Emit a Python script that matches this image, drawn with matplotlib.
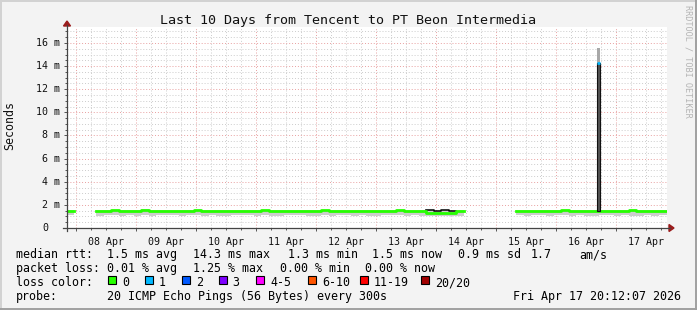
import numpy as np
import pandas as pd
import matplotlib
matplotlib.use('Agg')
import matplotlib.pyplot as plt
import matplotlib.dates as mdates
from matplotlib.lines import Line2D
from matplotlib.patches import Rectangle, Polygon

nan = np.nan

# rrd steps of 3 hours, first one starting 07 Apr 20:00 (values in ms)
step_start = '2026-04-07 20:00'
median_ms = [
    1.50, nan, nan, nan,
    1.50, 1.48, 1.52, 1.50, 1.47, 1.50, 1.52, 1.50, 1.49, 1.51, 1.50,
    1.48, 1.50, 1.52, 1.49, 1.50, 1.50, 1.47, 1.50, 1.51, 1.50, 1.49,
    1.52, 1.50, 1.48, 1.50, 1.50, 1.51, 1.49, 1.50, 1.52, 1.50, 1.48,
    1.50, 1.49, 1.51, 1.50, 1.47, 1.50, 1.50, 1.52, 1.49, 1.50, 1.48,
    1.30, 1.27, 1.31, 1.29, 1.49,
    nan, nan, nan, nan, nan, nan, nan,
    1.50, 1.49, 1.51, 1.50, 1.48, 1.50, 1.52, 1.50, 1.49, 1.50, 1.51,
    1.50, 1.48, 1.50, 1.50, 1.52, 1.49, 1.50, 1.48, 1.50, 1.50,
]
ping_lo_ms = [
    1.10, nan, nan, nan,
    1.06, 1.10, 1.12, 1.07, 1.11, 1.08, 1.13, 1.06, 1.10, 1.12, 1.09,
    1.07, 1.10, 1.12, 1.06, 1.11, 1.08, 1.07, 1.12, 1.10, 1.09, 1.06,
    1.12, 1.08, 1.07, 1.11, 1.10, 1.12, 1.06, 1.08, 1.11, 1.07, 1.10,
    1.12, 1.06, 1.11, 1.08, 1.07, 1.12, 1.10, 1.09, 1.06, 1.10, 1.07,
    1.02, 1.00, 1.03, 1.01, 1.08,
    nan, nan, nan, nan, nan, nan, nan,
    1.09, 1.07, 1.10, 1.12, 1.06, 1.10, 1.11, 1.07, 1.12, 1.08, 1.06,
    1.11, 1.10, 1.07, 1.12, 1.08, 1.06, 1.11, 1.07, 1.10, 1.09,
]
ping_hi_ms = [
    1.55, nan, nan, nan,
    1.56, 1.53, 1.58, 1.55, 1.52, 1.56, 1.60, 1.55, 1.54, 1.57, 1.55,
    1.53, 1.56, 1.58, 1.54, 1.55, 1.56, 1.52, 1.55, 1.57, 1.56, 1.54,
    1.58, 1.55, 1.53, 1.56, 1.55, 1.57, 1.54, 1.56, 1.58, 1.55, 1.53,
    1.56, 1.54, 1.57, 1.55, 1.52, 1.56, 1.55, 1.58, 1.54, 1.55, 1.53,
    1.52, 1.50, 1.53, 1.51, 1.55,
    nan, nan, nan, nan, nan, nan, nan,
    1.56, 1.54, 1.57, 1.55, 1.53, 1.56, 1.58, 1.55, 1.54, 1.56, 1.57,
    1.55, 1.53, 1.56, 1.55, 1.58, 1.54, 1.56, 1.53, 1.55, 1.56,
]

spike_time = '2026-04-16 16:48'
spike_lo_ms = 1.5
spike_median_ms = 14.3
spike_hi_ms = 15.6

view_start = '2026-04-07 20:12'
view_end = '2026-04-17 20:12'
first_day = '2026-04-08'
n_days = 10

loss_labels = ['0', '1', '2', '3', '4-5', '6-10', '11-19', '20/20']
loss_colors = ['#26ff00', '#00b8ff', '#0059ff', '#7e00ff',
               '#ff00ff', '#ff5500', '#ff0000', '#a10000']

rtt_items = ['1.5 ms avg', '14.3 ms max', '1.3 ms min', '1.5 ms now',
             '0.9 ms sd', '1.7', 'am/s']
loss_items = ['0.01 % avg', '1.25 % max', '0.00 % min', '0.00 % now']
probe_text = '20 ICMP Echo Pings (56 Bytes) every 300s'
stamp_text = 'Fri Apr 17 20:12:07 2026'
title = 'Last 10 Days from Tencent to PT Beon Intermedia'

# ---- layout (pixels) ----
W, H = 697, 310
PL, PR, PT, PB = 67, 667, 27, 228
MONO = 'DejaVu Sans Mono'


def fx(x):
    return x / W


def fy(y):
    return 1 - y / H


fig = plt.figure(figsize=(W / 100, H / 100), dpi=100, facecolor='#f3f3f3')
ax = fig.add_axes([fx(PL), fy(PB), (PR - PL) / W, (PB - PT) / H])
ax.set_facecolor('white')

times = pd.date_range(step_start, periods=len(median_ms), freq='3h')
step = pd.Timedelta(hours=3)
med = np.array(median_ms)
lo = np.array(ping_lo_ms)
hi = np.array(ping_hi_ms)

# smoke
ax.bar(times, hi - lo, bottom=lo, width=step, align='edge',
       color='#cdcdcd', linewidth=0, zorder=2)
dark = np.where(hi - med > 0.15, hi, nan)
ax.step(times, dark, where='post', color='#111111', lw=1.2, zorder=3)

# median, coloured by loss (all steps have 0 loss)
ax.step(times, med, where='post', color=loss_colors[0], lw=2.0, zorder=4)

# spike
st = pd.Timestamp(spike_time)
sw = pd.Timedelta(minutes=70)
ax.bar(st, spike_median_ms - spike_lo_ms, bottom=spike_lo_ms, width=sw,
       color='#555555', edgecolor='#111111', linewidth=0.8, zorder=5)
ax.bar(st, spike_hi_ms - spike_median_ms, bottom=spike_median_ms, width=sw,
       color='#a8a8a8', linewidth=0, zorder=5)
ax.plot([st - sw / 2, st + sw / 2], [spike_median_ms] * 2,
        color=loss_colors[1], lw=2, zorder=6, solid_capstyle='butt')

ax.set_xlim(pd.Timestamp(view_start), pd.Timestamp(view_end))
ax.set_ylim(0, 17.38)

# grid
days = pd.date_range(first_day, periods=n_days, freq='D')
ax.set_xticks(days)
ax.xaxis.set_minor_locator(mdates.HourLocator(byhour=[6, 12, 18]))
yt = np.arange(0, 17, 2)
ax.set_yticks(yt)
ax.set_yticks([v for v in np.arange(0, 17.5, 0.5) if v % 2], minor=True)
ax.grid(which='minor', color='#cccccc', ls=(0, (1, 2)), lw=0.7)
ax.grid(which='major', color='#e8a0a0', ls=(0, (1, 2)), lw=0.7)
ax.set_axisbelow(True)
ax.tick_params(which='major', direction='out', length=2.5, width=0.7,
               color='#555555', labelleft=False, labelbottom=False)
ax.tick_params(which='minor', direction='out', length=1.2, width=0.7,
               color='#555555')
for s in ax.spines.values():
    s.set_visible(False)

# axis lines and arrows
fig.add_artist(Line2D([fx(PL), fx(PL)], [fy(PB + 3), fy(PT - 2)],
                      color='#444444', lw=0.9))
fig.add_artist(Line2D([fx(PL - 4), fx(PR + 3)], [fy(PB), fy(PB)],
                      color='#444444', lw=0.9))
fig.add_artist(Polygon([(fx(PL - 3.5), fy(PT - 1)), (fx(PL + 3.5), fy(PT - 1)),
                        (fx(PL), fy(PT - 6))], closed=True, color='#9b1c1c'))
fig.add_artist(Polygon([(fx(PR + 2), fy(PB - 3.5)), (fx(PR + 2), fy(PB + 3.5)),
                        (fx(PR + 7), fy(PB))], closed=True, color='#9b1c1c'))

# x labels at noon
for d in days:
    ax.text(d + pd.Timedelta(hours=12), -0.045, d.strftime('%d %b'),
            transform=ax.get_xaxis_transform(), ha='center', va='top',
            family=MONO, fontsize=7.2, color='#111111')

# y labels
for v in yt:
    if v:
        fig.text(fx(60), ax.transData.transform((0, v))[1] / H,
                 f'{v:d} m', ha='right', va='center', family=MONO,
                 fontsize=7.2, color='#111111')
    else:
        fig.text(fx(48), fy(PB), '0', ha='right', va='center', family=MONO,
                 fontsize=7.2, color='#111111')

fig.text(fx(10), fy(125), 'Seconds', rotation=90, ha='center', va='center',
         family=MONO, fontsize=8.4, color='#111111')
fig.text(fx(348), fy(24), title, ha='center', va='baseline', family=MONO,
         fontsize=9.6, color='#111111')
fig.text(fx(688), fy(5), 'RRDTOOL / TOBI OETIKER', rotation=270,
         ha='center', va='top', family=MONO, fontsize=6.1, color='#b4b4b4')

# legend
rows = [258, 272, 286, 300]
fs = 8.4
fig.text(fx(16), fy(rows[0]), 'median rtt:', va='baseline', family=MONO, fontsize=fs)
for x, t in zip([107, 193.5, 288.5, 372.5, 458.5, 530.5, 579], rtt_items):
    fig.text(fx(x), fy(rows[0]), t, va='baseline', family=MONO, fontsize=fs)
fig.text(fx(16), fy(rows[1]), 'packet loss:', va='baseline', family=MONO, fontsize=fs)
for x, t in zip([107, 193.5, 279.5, 365], loss_items):
    fig.text(fx(x), fy(rows[1]), t, va='baseline', family=MONO, fontsize=fs)
fig.text(fx(16), fy(rows[2]), 'loss color:', va='baseline', family=MONO, fontsize=fs)
for x, lab, col in zip([108, 144.7, 182, 218.7, 256, 308, 360, 420.7],
                       loss_labels, loss_colors):
    fig.add_artist(Rectangle((fx(x), fy(284)), 8 / W, 8 / H,
                             facecolor=col, edgecolor='black', lw=0.8))
    fig.text(fx(x + 14), fy(rows[2]), lab, va='baseline', family=MONO, fontsize=fs)
fig.text(fx(16), fy(rows[3]), 'probe:', va='baseline', family=MONO, fontsize=fs)
fig.text(fx(107), fy(rows[3]), probe_text, va='baseline', family=MONO, fontsize=fs)
fig.text(fx(513), fy(rows[3]), stamp_text, va='baseline', family=MONO, fontsize=fs)

# frame
fig.add_artist(Line2D([0, 1], [fy(1), fy(1)], color='#d2d2d2', lw=1.4))
fig.add_artist(Line2D([fx(1), fx(1)], [0, 1], color='#d2d2d2', lw=1.4))
fig.add_artist(Line2D([0, 1], [fy(H - 1), fy(H - 1)], color='#a0a0a0', lw=1.4))
fig.add_artist(Line2D([fx(W - 1), fx(W - 1)], [0, 1], color='#a0a0a0', lw=1.4))

fig.savefig('out.png', dpi=100, facecolor=fig.get_facecolor())
